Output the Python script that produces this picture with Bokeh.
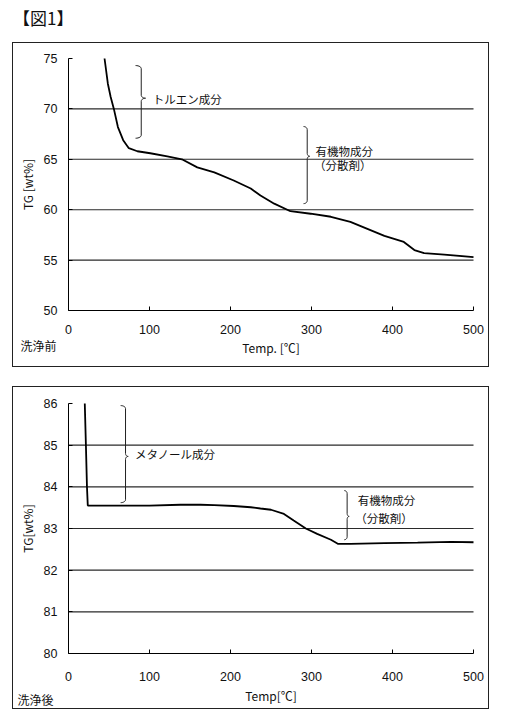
import numpy as np
from bokeh.plotting import figure
from bokeh.models import Div, Label, FixedTicker, Range1d
from bokeh.layouts import column
from bokeh.embed import file_html
from bokeh.resources import INLINE

# --- data -------------------------------------------------------------
# Before washing (洗浄前): temperature [°C] vs TG [wt%]
before_temp = [44.5, 48.6, 52, 56, 61, 67.5, 74.5, 85, 101, 122, 140, 159,
               180, 204, 225, 237, 254, 274, 299, 324, 348, 369, 390, 414,
               427, 439, 464, 500]
before_tg = [75.0, 72.5, 71.2, 70.0, 68.2, 66.9, 66.1, 65.8, 65.6, 65.3, 65.0,
             64.2, 63.7, 62.9, 62.1, 61.4, 60.6, 59.85, 59.6, 59.3, 58.8, 58.1,
             57.4, 56.8, 56.0, 55.7, 55.55, 55.3]

# After washing (洗浄後)
after_temp = [20.1, 21.5, 22.8, 23.8, 60, 100, 138, 163, 180, 204, 225, 237,
              250, 266, 278, 293, 307, 324, 333, 348, 390, 431, 472, 500]
after_tg = [86.0, 85.0, 84.0, 83.55, 83.55, 83.55, 83.57, 83.57, 83.56, 83.54,
            83.51, 83.48, 83.45, 83.35, 83.19, 83.0, 82.87, 82.73, 82.63, 82.63,
            82.65, 82.66, 82.68, 82.67]

x_ticks = [0, 100, 200, 300, 400, 500]
before_y_ticks = [50, 55, 60, 65, 70, 75]
after_y_ticks = [80, 81, 82, 83, 84, 85, 86]

JP = "Noto Sans CJK JP"
NUM = "Liberation Sans"

# panel box geometry (pixels): the data area sits inside each framed box
BOX_W = 477
PAD_L, PAD_R = 55, 17


def brace(x, y_top, y_tip, y_bot, hook, tip, ry, n=8):
    """Path of a right-facing curly brace '}' in data units."""
    xs, ys = [], []
    t = np.linspace(np.pi / 2, 0, n)
    xs += list(x - hook + hook * np.cos(t)); ys += list(y_top - ry + ry * np.sin(t))
    t = np.linspace(np.pi, 1.5 * np.pi, n)
    xs += list(x + tip + tip * np.cos(t)); ys += list(y_tip + ry + ry * np.sin(t))
    t = np.linspace(0.5 * np.pi, np.pi, n)
    xs += list(x + tip + tip * np.cos(t)); ys += list(y_tip - ry + ry * np.sin(t))
    t = np.linspace(0, -0.5 * np.pi, n)
    xs += list(x - hook + hook * np.cos(t)); ys += list(y_bot + ry + ry * np.sin(t))
    return xs, ys


def make_panel(temp, tg, yticks, ylabel, xlabel, height, pad_top, pad_bottom,
               margin, x_standoff, xlabel_standoff):
    x0, x1 = x_ticks[0], x_ticks[-1]
    y0, y1 = yticks[0], yticks[-1]
    kx = (BOX_W - PAD_L - PAD_R) / (x1 - x0)
    ky = (height - pad_top - pad_bottom) / (y1 - y0)
    p = figure(width=BOX_W, height=height, output_backend="svg",
               toolbar_location=None,
               x_range=Range1d(x0 - PAD_L / kx, x1 + PAD_R / kx),
               y_range=Range1d(y0 - pad_bottom / ky, y1 + pad_top / ky),
               min_border=0, margin=margin)
    p.styles = {"border": "1px solid #222"}
    p.outline_line_color = None
    p.background_fill_color = "white"
    p.border_fill_color = "white"
    p.grid.visible = False

    # horizontal reference lines across the data area
    inner = yticks[1:-1]
    p.segment(x0=[x0] * len(inner), x1=[x1] * len(inner), y0=inner, y1=inner,
              line_color="#2a2a2a", line_width=1.1)

    p.xaxis.ticker = FixedTicker(ticks=x_ticks)
    p.yaxis.ticker = FixedTicker(ticks=yticks)
    p.xaxis.fixed_location = y0
    p.yaxis.fixed_location = x0
    p.xaxis.bounds = (x0, x1)
    p.yaxis.bounds = (y0, y1)
    for ax in (p.xaxis[0], p.yaxis[0]):
        ax.major_tick_in = 4
        ax.major_tick_out = 0
        ax.minor_tick_line_color = None
        ax.axis_line_color = "black"
        ax.major_tick_line_color = "black"
        ax.major_label_text_font = NUM
        ax.major_label_text_font_size = "12.5px"
        ax.major_label_text_color = "#111"
        ax.axis_label_text_font = JP
        ax.axis_label_text_font_size = "12px"
        ax.axis_label_text_font_style = "normal"
        ax.axis_label_text_color = "#111"
    p.xaxis.major_label_standoff = x_standoff
    p.xaxis.axis_label_standoff = xlabel_standoff
    p.yaxis.major_label_standoff = 11
    p.yaxis.axis_label_standoff = 5
    p.xaxis.axis_label = xlabel
    p.yaxis.axis_label = ylabel

    p.line(temp, tg, line_color="black", line_width=1.8)
    return p


def note(p, x, y, text, size="11.5px"):
    p.add_layout(Label(x=x, y=y, text=text, text_font=JP,
                       text_font_size=size, text_baseline="middle",
                       text_color="#111"))


# --- before washing ------------------------------------------------------
p1 = make_panel(before_temp, before_tg, before_y_ticks, "TG [wt%]",
                "Temp. [℃]", 325, 15, 58, (0, 0, 0, 12), 14, 2)
bx, by = brace(89.8, 74.3, 71.06, 67.09, 7.0, 5.3, 0.3)
p1.line(bx, by, line_color="#222", line_width=1)
bx, by = brace(294.7, 68.25, 65.3, 60.6, 4.5, 3.0, 0.3)
p1.line(bx, by, line_color="#222", line_width=1)
note(p1, 104, 71.0, "トルエン成分")
note(p1, 305, 65.87, "有機物成分")
note(p1, 303, 64.45, "（分散剤）")
note(p1, -59.3, 46.53, "洗浄前", "12px")

# --- after washing -------------------------------------------------------
p2 = make_panel(after_temp, after_tg, after_y_ticks, "TG[wt%]",
                "Temp[℃]", 323, 16, 57, (19, 0, 0, 12), 18, 3)
bx, by = brace(70.4, 85.95, 84.73, 83.62, 6.0, 3.3, 0.07)
p2.line(bx, by, line_color="#222", line_width=1)
bx, by = brace(344, 83.91, 83.29, 82.73, 3.5, 2.5, 0.07)
p2.line(bx, by, line_color="#222", line_width=1)
note(p2, 82, 84.78, "メタノール成分")
note(p2, 357, 83.69, "有機物成分")
note(p2, 354, 83.26, "（分散剤）")
note(p2, -63, 78.9, "洗浄後", "12px")

title = Div(text="【図1】", width=510, height=42, margin=0,
            styles={"font-family": JP, "font-size": "17px",
                    "line-height": "36px", "padding-left": "13px",
                    "color": "#111"})

layout = column(title, p1, p2, spacing=0)
open("out.html", "w").write(file_html(layout, INLINE))
